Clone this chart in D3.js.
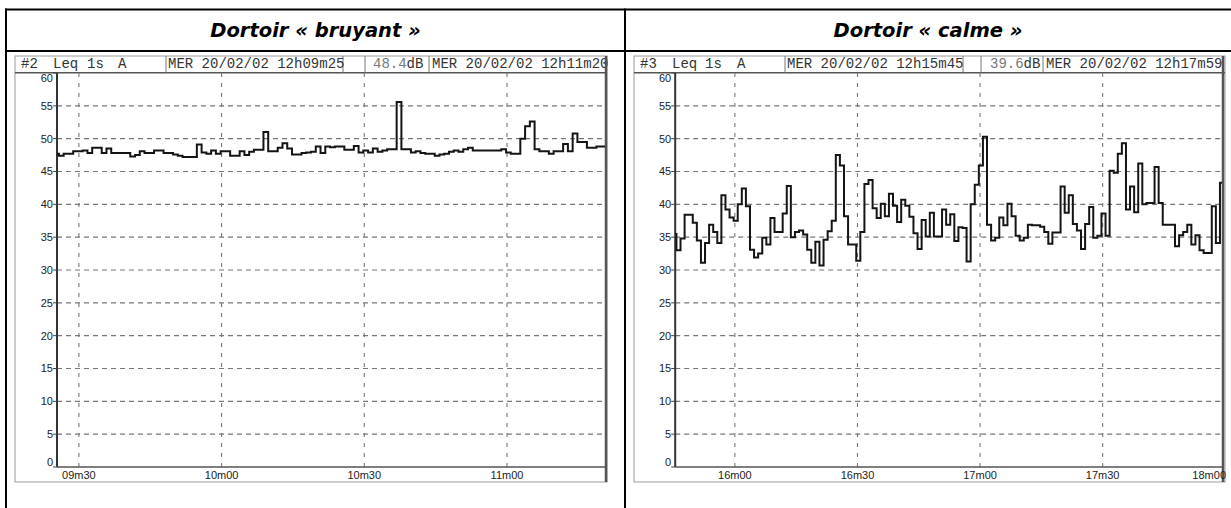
<!DOCTYPE html>
<html><head><meta charset="utf-8">
<script src="https://cdn.jsdelivr.net/npm/d3@7"></script>
<style>
html,body{margin:0;padding:0;background:#fff;}
svg{display:block;}
</style></head>
<body>
<svg id="c" width="1231" height="508"></svg>
<script>
// ---------- DATA ----------
const titles = ["Dortoir « bruyant »", "Dortoir « calme »"];
const channelLabels = ["#2", "#3"];
const measureLabels = ["Leq", "1s", "A"];
const startStamps = ["MER 20/02/02 12h09m25", "MER 20/02/02 12h15m45"];
const endStamps = ["MER 20/02/02 12h11m20", "MER 20/02/02 12h17m59"];
const leqValues = ["48.4", "39.6"];
const leqUnit = "dB";
const yTicks = [0, 5, 10, 15, 20, 25, 30, 35, 40, 45, 50, 55, 60];
// time in seconds after 12h00
const xTicksL = [570, 600, 630, 660];
const xTicksR = [960, 990, 1020, 1050, 1080];
const timeDomainL = [565.4, 680.6];
const timeDomainR = [945.4, 1079.2];
const firstSampleL = 564.8;   // 1 s Leq samples
const firstSampleR = 944.7;
const levelsL = [
  47.7,47.4,47.7,47.7,48.1,48.1,48.2,47.8,48.6,48.6,
  47.8,48.5,47.8,47.8,47.8,47.8,47.3,47.5,48.1,47.8,
  47.8,48.2,48.2,47.8,47.8,47.6,47.4,47.2,47.2,47.2,
  49.1,47.9,47.7,48.2,47.7,48.1,48.1,47.4,47.4,48.1,
  47.5,48.0,48.3,48.3,51.0,48.1,48.1,48.6,49.3,48.5,
  47.6,47.6,47.8,47.9,48.0,48.8,47.8,48.8,48.7,48.8,
  48.8,48.3,48.3,48.9,47.9,48.2,47.9,48.5,48.0,48.2,
  48.4,48.4,55.6,48.4,48.4,47.9,48.1,47.8,47.7,47.7,
  47.4,47.6,47.7,48.0,48.2,48.0,48.4,48.6,48.2,48.2,
  48.2,48.2,48.2,48.2,48.4,47.9,47.7,47.7,50.0,51.9,
  52.6,48.4,48.1,48.1,47.7,48.1,48.1,49.2,48.1,50.8,
  49.5,49.5,48.6,48.6,48.8,48.8
];
const levelsR = [
  35.5,33.0,34.8,38.4,38.4,37.2,34.5,31.1,34.1,36.9,
  35.8,34.1,41.4,39.2,38.0,37.5,40.0,42.4,39.7,33.1,
  31.9,32.5,34.9,33.9,37.9,35.8,35.8,38.6,42.8,35.0,
  35.8,36.0,35.4,33.1,31.1,34.3,30.7,34.6,35.9,37.5,
  47.5,45.9,38.2,33.9,33.9,31.4,35.8,43.1,43.7,39.4,
  37.9,40.1,38.2,41.6,39.8,37.3,40.7,39.8,38.1,35.6,
  33.2,37.6,35.1,38.7,35.1,35.1,39.2,36.9,38.5,34.4,
  36.5,36.4,31.3,40.0,43.0,45.9,50.3,36.9,34.5,34.9,
  38.0,36.8,40.1,38.2,35.2,34.5,34.9,36.9,36.8,36.8,
  36.6,35.8,34.0,35.7,35.7,42.7,38.7,41.4,37.0,36.0,
  33.2,37.0,39.6,34.9,35.2,38.6,35.2,45.1,44.8,47.7,
  49.3,39.2,42.7,38.8,46.2,40.0,40.2,40.2,45.7,40.2,
  36.9,36.9,36.9,33.6,35.3,35.8,36.9,33.9,35.3,33.0,
  32.6,32.6,39.7,34.1,43.3
];

// ---------- LAYOUT ----------
const svg = d3.select("#c");
const INK = "#141414";

// outer table
const tbl = svg.append("g");
tbl.append("line").attr("x1",5).attr("x2",1231).attr("y1",9.5).attr("y2",9.5).attr("stroke","#000").attr("stroke-width",2);
tbl.append("line").attr("x1",5).attr("x2",1231).attr("y1",51).attr("y2",51).attr("stroke","#000").attr("stroke-width",2);
tbl.append("line").attr("x1",6).attr("x2",6).attr("y1",8.5).attr("y2",508).attr("stroke","#000").attr("stroke-width",2);
tbl.append("line").attr("x1",625).attr("x2",625).attr("y1",8.5).attr("y2",508).attr("stroke","#000").attr("stroke-width",2);

const titleX = [315.5, 928];
titles.forEach((t,i)=>{
  svg.append("text").attr("x",titleX[i]).attr("y",37).attr("text-anchor","middle")
    .attr("font-family","'Comic Sans MS','DejaVu Sans',sans-serif")
    .attr("font-weight","bold").attr("font-style","italic").attr("font-size",19.5)
    .attr("fill","#000").text(t);
});

const fmt = t => String(Math.floor(t/60)%60).padStart(2,"0")+"m"+String(Math.round(t%60)).padStart(2,"0");

const panels = [
  {frameL:15, frameR:607, axisX:57, plotR:605, domain:timeDomainL, first:firstSampleL, levels:levelsL, ticks:xTicksL,
   hdr:{ch:21, leq:53, s:87, a:118, box1:166, stamp1:168, box1e:343, box2:365, val:373, box3:429, stamp2:432}},
  {frameL:634, frameR:1225, axisX:675.2, plotR:1222, domain:timeDomainR, first:firstSampleR, levels:levelsR, ticks:xTicksR,
   hdr:{ch:640, leq:672, s:705, a:737, box1:785, stamp1:787, box1e:963, box2:981, val:990, box3:1043, stamp2:1046}}
];

const yTop = 73, yBot = 467;
const y = d3.scaleLinear().domain([0,60]).range([yBot, yTop]);

panels.forEach((p,pi)=>{
  const g = svg.append("g");
  const x = d3.scaleLinear().domain(p.domain).range([p.axisX, p.plotR]);

  // printout frame
  g.append("rect").attr("x",p.frameL).attr("y",56).attr("width",p.frameR-p.frameL).attr("height",482-56)
    .attr("fill","none").attr("stroke","#9a9a9a").attr("stroke-width",1);
  // header underline
  g.append("line").attr("x1",p.frameL).attr("x2",p.frameR).attr("y1",72.7).attr("y2",72.7).attr("stroke","#555").attr("stroke-width",1.5);
  // header boxes
  const h = p.hdr;
  [h.box1, h.box1e, h.box2, h.box3].forEach(bx=>{
    g.append("line").attr("x1",bx).attr("x2",bx).attr("y1",56).attr("y2",72.7).attr("stroke","#777").attr("stroke-width",1);
  });
  const mono = "'Courier New','Liberation Mono',monospace";
  const hText = (xx, s, col) => g.append("text").attr("x",xx).attr("y",68).attr("font-family",mono)
      .attr("font-size",14).attr("fill",col||"#333").text(s);
  hText(h.ch, channelLabels[pi]);
  hText(h.leq, measureLabels[0]);
  hText(h.s, measureLabels[1]);
  hText(h.a, measureLabels[2]);
  hText(h.stamp1, startStamps[pi]);
  hText(h.val, leqValues[pi], "#777");
  hText(h.val + 8.4*leqValues[pi].length, leqUnit);
  hText(h.stamp2, endStamps[pi]);

  // grid horizontal
  g.selectAll(".hg").data(yTicks.filter(v=>v>0 && v<60)).join("line")
    .attr("x1",p.axisX).attr("x2",p.plotR).attr("y1",d=>y(d)).attr("y2",d=>y(d))
    .attr("stroke","#777").attr("stroke-width",1.1).attr("stroke-dasharray","5,4");
  // grid vertical
  const vt = p.ticks.filter(t=>t>p.domain[0] && t<p.domain[1]);
  g.selectAll(".vg").data(vt).join("line")
    .attr("x1",d=>x(d)).attr("x2",d=>x(d)).attr("y1",yTop).attr("y2",yBot)
    .attr("stroke","#777").attr("stroke-width",1.1).attr("stroke-dasharray","4,6");

  // axes
  g.append("line").attr("x1",p.axisX).attr("x2",p.axisX).attr("y1",yTop).attr("y2",yBot).attr("stroke","#333").attr("stroke-width",2);
  g.append("line").attr("x1",p.axisX).attr("x2",p.plotR).attr("y1",yBot).attr("y2",yBot).attr("stroke","#555").attr("stroke-width",1.5);
  g.append("line").attr("x1",p.plotR+1).attr("x2",p.plotR+1).attr("y1",56).attr("y2",482).attr("stroke","#555").attr("stroke-width",2.5);

  // y ticks + labels
  yTicks.forEach(v=>{
    g.append("line").attr("x1",p.axisX-4).attr("x2",p.axisX).attr("y1",y(v)).attr("y2",y(v)).attr("stroke","#444").attr("stroke-width",1);
    const ly = Math.max(78, Math.min(462, y(v)));
    g.append("text").attr("x",p.axisX-4).attr("y",ly).attr("dy","0.35em").attr("text-anchor","end")
      .attr("font-family","'Liberation Sans',Arial,sans-serif").attr("font-size",11).attr("fill","#222").text(v);
  });
  // x labels
  p.ticks.forEach(t=>{
    let xx = x(t), anchor = "middle";
    if (xx > p.plotR - 10) { xx = p.plotR + 4; anchor = "end"; }
    g.append("text").attr("x",xx).attr("y",479).attr("text-anchor",anchor)
      .attr("font-family","'Liberation Sans',Arial,sans-serif").attr("font-size",11).attr("fill","#222").text(fmt(t));
  });

  // step line
  const pts = p.levels.map((v,i)=>[p.first + i, v]);
  pts.push([p.first + p.levels.length, p.levels[p.levels.length-1]]);
  const cid = "clip"+pi;
  svg.append("defs").append("clipPath").attr("id",cid).append("rect")
    .attr("x",p.axisX).attr("y",yTop).attr("width",p.plotR-p.axisX).attr("height",yBot-yTop);
  const line = d3.line().x(d=>x(d[0])).y(d=>y(d[1])).curve(d3.curveStepAfter);
  g.append("path").attr("d",line(pts)).attr("clip-path",`url(#${cid})`)
    .attr("fill","none").attr("stroke",INK).attr("stroke-width",2).attr("stroke-linejoin","miter");
});
</script>
</body></html>
